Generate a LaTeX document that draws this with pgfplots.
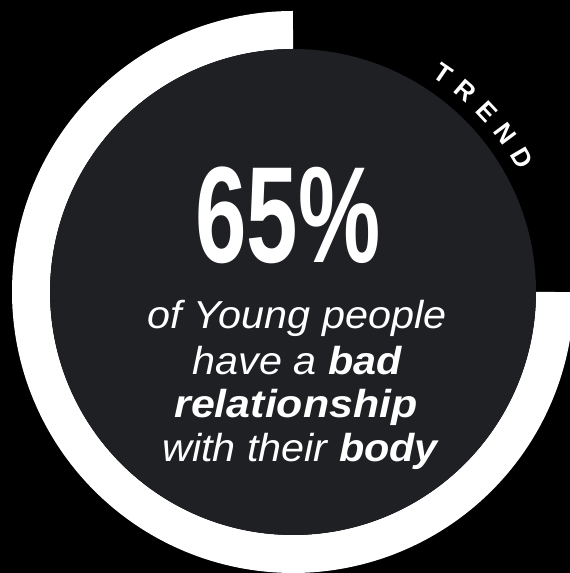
\documentclass[border=0pt]{standalone}
\usepackage{pgfplots}
\pgfplotsset{compat=1.18}
\usepackage{fontspec}
\setmainfont{Liberation Sans}
\definecolor{darkbg}{RGB}{31,32,36}
\begin{document}
\begin{tikzpicture}
\begin{axis}[x=1pt,y=1pt,xmin=0,xmax=570,ymin=0,ymax=573,hide axis,clip=true]
% background
\addplot[fill=black,draw=none] coordinates {(0,0)(570,0)(570,573)(0,573)} -- cycle;
% ring: 270 degrees, from 12 o'clock counterclockwise to 3 o'clock
\addplot[white,line width=38pt,domain=90:360,samples=271] ({293+262*cos(x)},{281+262*sin(x)});
% inner disc
\fill[darkbg] (axis cs:293,281) circle[radius=243pt];
% big number
\node[anchor=base,text=white] at (axis cs:288,310) {\scalebox{0.675}[1]{\fontsize{137}{137}\selectfont\bfseries 65\%}};
% caption lines
\node[anchor=base,text=white] at (axis cs:297,244) {\scalebox{1.06}[1]{\fontsize{39}{44}\selectfont\itshape of Young people}};
\node[anchor=base,text=white] at (axis cs:297,198) {\scalebox{1.06}[1]{\fontsize{39}{44}\selectfont\itshape have a \bfseries bad}};
\node[anchor=base,text=white] at (axis cs:296,155) {\scalebox{1.10}[1]{\fontsize{39}{44}\selectfont\bfseries\itshape relationship}};
\node[anchor=base,text=white] at (axis cs:300,111) {\scalebox{1.06}[1]{\fontsize{39}{44}\selectfont\itshape with their \bfseries body}};
% TREND along the arc
\tikzset{trendletter/.style={text=white,inner sep=0pt,font=\fontsize{26}{26}\selectfont\bfseries}}
\node[trendletter,rotate=-34.4] at (axis cs:442.7,499.7) {T};
\node[trendletter,rotate=-40.7] at (axis cs:465.8,481.9) {R};
\node[trendletter,rotate=-47.0] at (axis cs:486.8,461.7) {E};
\node[trendletter,rotate=-53.3] at (axis cs:505.5,439.4) {N};
\node[trendletter,rotate=-59.6] at (axis cs:521.6,415.1) {D};
\end{axis}
\pgfresetboundingbox
\path[use as bounding box] (current axis.south west) rectangle (current axis.north east);
\end{tikzpicture}
\end{document}
